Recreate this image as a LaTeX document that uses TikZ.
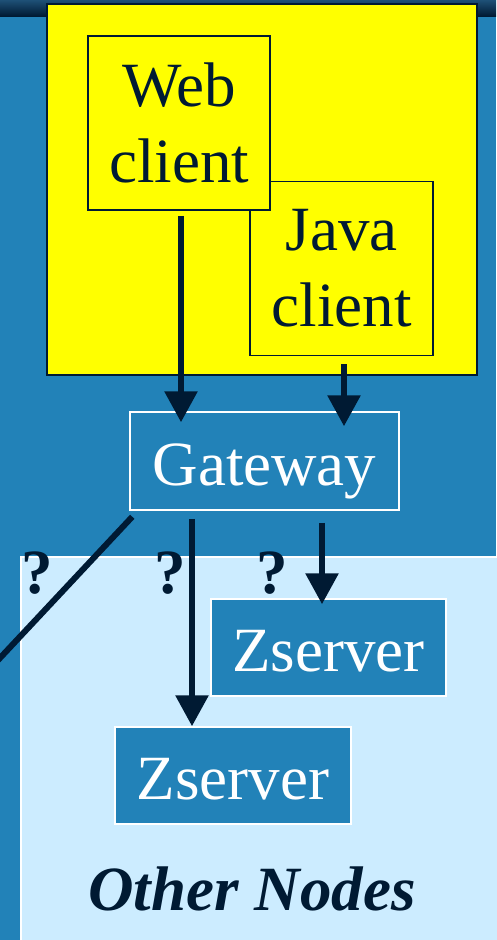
\documentclass[tikz,border=0pt]{standalone}
\usepackage{fontspec}
\setmainfont{Liberation Serif}
\usetikzlibrary{arrows.meta}
\definecolor{ink}{RGB}{0,26,51}
\definecolor{sea}{RGB}{34,130,184}
\definecolor{sky}{RGB}{204,236,255}
\definecolor{dusk}{RGB}{30,80,118}
\definecolor{lemon}{RGB}{255,255,0}

\begin{document}
\begin{tikzpicture}[x=1pt, y=-1pt,
    font=\fontsize{63}{76}\selectfont,
    client/.style={draw=ink, line width=1.5pt, fill=lemon, text=ink, align=center},
    host/.style={draw=white, line width=1.5pt, fill=sea, text=white, text height=48pt, text depth=0pt},
    flow/.style={draw=ink, line width=6pt, -{Triangle[width=32pt,length=31pt]}},
    query/.style={text=ink, font=\fontsize{63}{76}\selectfont\bfseries, anchor=base}]
    \useasboundingbox (0,0) rectangle (496,940);
    \fill [sea] (0,0) rectangle (496,940);
    \shade [top color=dusk, bottom color=ink] (0,0) rectangle (496,16);
    \path (266, 758.5) node [draw=white, line width=1.5pt, fill=sky, minimum width=490pt, minimum height=403pt] (others) {};
    \path (262, 189.5) node [client, minimum width=430pt, minimum height=371pt] (desk) {};
    \path (341.5, 268.5) node [client, minimum width=183pt, minimum height=174pt] (java) {Java\\client};
    \path (179, 123) node [client, minimum width=182pt, minimum height=174pt] (web) {Web\\client};
    \path (264.5, 461) node [host, minimum width=269pt, minimum height=98pt] (gw) {Gateway};
    \path (328.5, 647.5) node [host, minimum width=235pt, minimum height=97pt] (zs1) {Zserver};
    \path (233, 775.5) node [host, minimum width=236pt, minimum height=97pt] (zs2) {Zserver};
    \path ( 37, 593) node [query] (q1) {?};
    \path (170, 593) node [query] (q2) {?};
    \path (272, 593) node [query] (q3) {?};
    \path (252, 910) node [text=ink, anchor=base, font=\fontsize{63}{76}\selectfont\bfseries\itshape] (tag) {Other Nodes};
    \coordinate (lost) at (-10, 668.7);
    \draw [flow, shorten <=5pt, shorten >=-11pt] ([xshift=2pt]web.south) -- ([xshift=2pt]web.south |- gw.north);
    \draw [flow, shorten <=8pt, shorten >=-15pt] ([xshift=2.5pt]java.south) -- ([xshift=2.5pt]java.south |- gw.north);
    \draw [flow, shorten <=8pt] ([xshift=-72.5pt]gw.south) -- ([xshift=-72.5pt]gw.south |- zs2.north);
    \draw [flow, shorten <=12pt, shorten >=-6pt] ([xshift=-6.5pt]zs1.north |- gw.south) -- ([xshift=-6.5pt]zs1.north);
    \draw [ink, line width=6pt] ([xshift=3pt, yshift=-6pt]gw.south west) -- (lost);
\end{tikzpicture}
\end{document}
